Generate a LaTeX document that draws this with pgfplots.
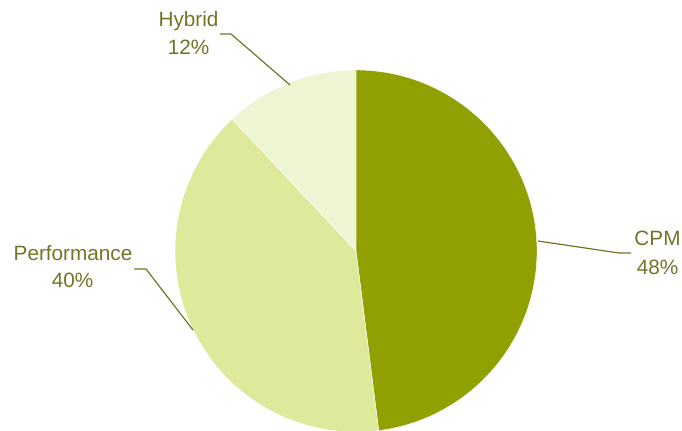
\documentclass[border=0pt]{standalone}
\usepackage{pgfplots}
\pgfplotsset{compat=1.18}
\usepackage{fontspec}
\setmainfont{Liberation Sans}
\definecolor{cpm}{HTML}{8FA000}
\definecolor{perf}{HTML}{DFE99C}
\definecolor{hyb}{HTML}{EEF5D2}
\definecolor{lab}{HTML}{737326}
\begin{document}
\begin{tikzpicture}
\begin{axis}[
  at={(0,0)}, anchor=south west,
  scale only axis, width=682bp, height=431bp,
  xmin=0, xmax=682, ymin=0, ymax=431, y dir=reverse,
  hide axis, clip=false]
% pie values (percent), clockwise from 12 o'clock: CPM, Performance, Hybrid
\def\cx{356}\def\cy{251}\def\r{181bp}
\pgfmathsetmacro{\aA}{90}
\pgfmathsetmacro{\aB}{90-48*3.6}
\pgfmathsetmacro{\aC}{\aB-40*3.6}
\pgfmathsetmacro{\aD}{\aC-12*3.6}
\fill[cpm, draw=white, line width=0.4pt] (axis cs:\cx,\cy) -- ++(\aA:\r) arc[start angle=\aA, end angle=\aB, radius=\r] -- cycle;
\fill[perf, draw=white, line width=0.4pt] (axis cs:\cx,\cy) -- ++(\aB:\r) arc[start angle=\aB, end angle=\aC, radius=\r] -- cycle;
\fill[hyb, draw=white, line width=0.4pt] (axis cs:\cx,\cy) -- ++(\aC:\r) arc[start angle=\aC, end angle=\aD, radius=\r] -- cycle;
% leader lines
\draw[lab, line width=1.2pt] (axis cs:220,34) -- (axis cs:231,34) -- (axis cs:290,85);
\draw[lab, line width=1.2pt] (axis cs:134,269) -- (axis cs:146,269) -- (axis cs:193,330);
\draw[lab, line width=1.2pt] (axis cs:538,241) -- (axis cs:619,253) -- (axis cs:631,253);
% labels
\begin{scope}[every node/.style={text=lab, font=\fontsize{20.8}{25}\selectfont, anchor=base, inner sep=0pt}]
\node at (axis cs:188.5,27) {Hybrid};
\node at (axis cs:188.5,55) {12\%};
\node at (axis cs:73,260) {Performance};
\node at (axis cs:72.5,287) {40\%};
\node at (axis cs:657.5,245) {CPM};
\node at (axis cs:657.5,274) {48\%};
\end{scope}
\end{axis}
\pgfresetboundingbox
\path[use as bounding box] (0,0) rectangle (682bp,431bp);
\end{tikzpicture}
\end{document}
